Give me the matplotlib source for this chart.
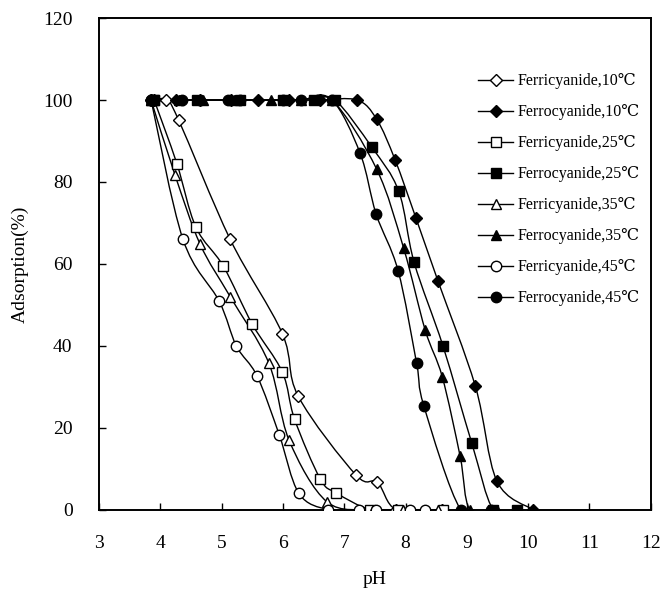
import numpy as np
import matplotlib
matplotlib.use("Agg")
import matplotlib.pyplot as plt
from matplotlib.path import Path
from matplotlib.patches import PathPatch
from matplotlib.lines import Line2D

plt.rcParams['font.family'] = ['Liberation Serif', 'DejaVu Serif', 'DejaVu Sans']

# values (pH, adsorption %)
fi10_x = [3.9, 4.1, 4.30, 5.14, 5.99, 6.25, 7.19, 7.54, 7.85, 8.6]
fi10_y = [100, 100, 95.1, 66.0, 43.0, 27.7, 8.5, 6.7, 0, 0]
fo10_x = [3.85, 4.25, 4.65, 5.15, 5.6, 6.1, 6.6, 7.21, 7.53, 7.83, 8.17, 8.53, 9.14, 9.49, 10.08]
fo10_y = [100, 100, 100, 100, 100, 100, 100, 100, 95.3, 85.4, 71.2, 55.8, 30.1, 7.0, 0]
fi25_x = [3.9, 4.27, 4.58, 5.03, 5.50, 5.99, 6.19, 6.61, 6.87, 7.42, 7.88, 8.61]
fi25_y = [100, 84.5, 69.0, 59.4, 45.3, 33.6, 22.1, 7.5, 4.1, 0, 0, 0]
fo25_x = [3.9, 4.6, 5.3, 6.0, 6.5, 6.85, 7.45, 7.89, 8.14, 8.61, 9.08, 9.43, 9.82]
fo25_y = [100, 100, 100, 100, 100, 100, 88.5, 77.7, 60.4, 40.0, 16.3, 0, 0]
fi35_x = [3.85, 4.24, 4.65, 5.14, 5.77, 6.10, 6.72, 7.47, 7.96, 8.53]
fi35_y = [100, 81.7, 64.8, 52.0, 35.8, 17.0, 1.9, 0, 0, 0]
fo35_x = [3.85, 4.3, 4.7, 5.2, 5.8, 6.3, 6.8, 7.53, 7.97, 8.32, 8.60, 8.89, 9.05, 9.5]
fo35_y = [100, 100, 100, 100, 100, 100, 100, 83.1, 63.8, 43.9, 32.4, 13.1, 0, 0]
fi45_x = [3.85, 4.37, 4.96, 5.24, 5.58, 5.94, 6.26, 6.74, 7.24, 7.52, 8.07, 8.32]
fi45_y = [100, 66.0, 50.9, 40.0, 32.6, 18.3, 4.0, 0, 0, 0, 0, 0]
fo45_x = [3.85, 4.35, 5.1, 5.3, 6.0, 6.3, 6.8, 7.26, 7.52, 7.88, 8.18, 8.30, 8.9, 9.4]
fo45_y = [100, 100, 100, 100, 100, 100, 100, 87.0, 72.2, 58.3, 35.8, 25.3, 0, 0]

labels = ['Ferricyanide,10℃', 'Ferrocyanide,10℃', 'Ferricyanide,25℃', 'Ferrocyanide,25℃',
          'Ferricyanide,35℃', 'Ferrocyanide,35℃', 'Ferricyanide,45℃', 'Ferrocyanide,45℃']
series = [(fi10_x, fi10_y), (fo10_x, fo10_y), (fi25_x, fi25_y), (fo25_x, fo25_y),
          (fi35_x, fi35_y), (fo35_x, fo35_y), (fi45_x, fi45_y), (fo45_x, fo45_y)]
markers = ['D', 'D', 's', 's', '^', '^', 'o', 'o']
filled = [False, True, False, True, False, True, False, True]
msizes = [6, 6, 7.5, 7.5, 7.5, 7.5, 7.5, 7.5]


def smooth_path(x, y):
    # Excel-style smoothed line: cubic Bezier segments between the points
    p = np.column_stack([x, y]).astype(float)
    n = len(p)
    verts = [p[0]]
    codes = [Path.MOVETO]
    for i in range(n - 1):
        p0 = p[i - 1] if i > 0 else p[i]
        p3 = p[i + 2] if i + 2 < n else p[i + 1]
        c1 = p[i] + (p[i + 1] - p0) / 6.0
        c2 = p[i + 1] - (p3 - p[i]) / 6.0
        verts += [c1, c2, p[i + 1]]
        codes += [Path.CURVE4] * 3
    return Path(verts, codes)


fig = plt.figure(figsize=(6.62, 5.93), dpi=100)
ax = fig.add_axes([0.1495, 0.1405, 0.8335, 0.829])

handles = []
for (x, y), m, f, ms, lab in zip(series, markers, filled, msizes, labels):
    ax.add_patch(PathPatch(smooth_path(x, y), facecolor='none', edgecolor='black', lw=1.0, zorder=2))
    fc = 'black' if f else 'white'
    ax.plot(x, y, linestyle='none', marker=m, ms=ms, mfc=fc, mec='black', mew=1.0, zorder=3)
    handles.append(Line2D([], [], color='black', lw=1.0, marker=m, ms=ms, mfc=fc, mec='black', mew=1.0))

ax.set_xlim(3, 12)
ax.set_ylim(0, 120)
ax.set_xticks(np.arange(3, 13, 1))
ax.set_yticks(np.arange(0, 140, 20))
ax.tick_params(direction='in', length=5, width=1.0, labelsize=14, top=False, right=False)
ax.tick_params(axis='x', pad=18)
ax.tick_params(axis='y', pad=19)
for s in ax.spines.values():
    s.set_linewidth(1.4)

ax.set_xlabel('pH', fontsize=14, labelpad=14)
ax.set_ylabel('Adsorption(%)', fontsize=14, labelpad=10)

leg = ax.legend(handles, labels, loc='upper left', bbox_to_anchor=(0.687, 0.888), frameon=False,
                fontsize=11.5, handlelength=2.2, handletextpad=0.25, labelspacing=0.94,
                borderaxespad=0, borderpad=0)

fig.savefig('out.png', dpi=100)
